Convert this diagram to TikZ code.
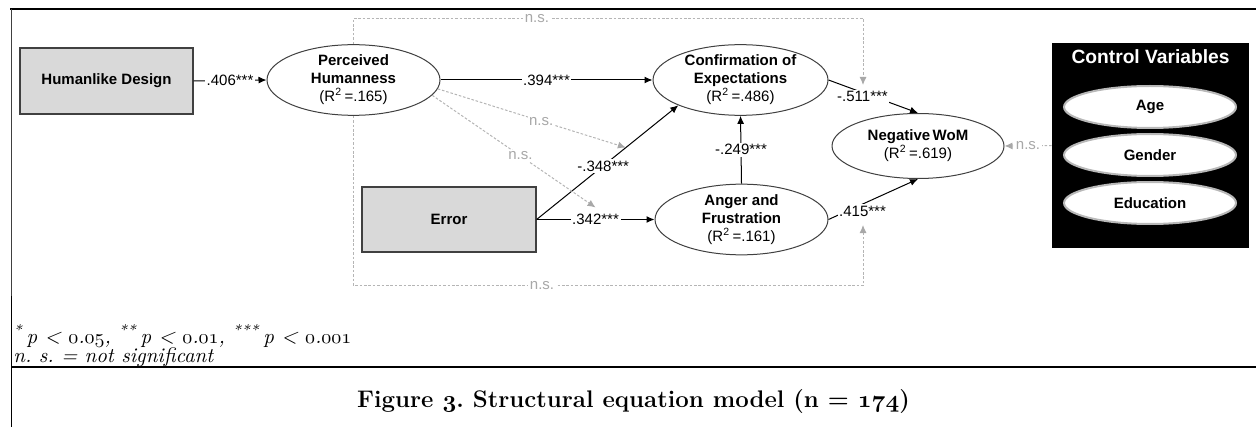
\documentclass[tikz,border=0pt]{standalone}
\usepackage{fontspec}
\setsansfont{Liberation Sans}
\usetikzlibrary{arrows.meta,shapes.geometric,calc}
\frenchspacing
% old-style figures taken from the math italic font
\newcommand\osnum[1]{{\usefont{OML}{cmm}{m}{it}#1}}
\newcommand\osnumb[1]{{\usefont{OML}{cmm}{b}{it}#1}}
\newcommand\sig[1]{\textsuperscript{#1}}
\definecolor{nsgray}{HTML}{A8A8A8}
\definecolor{boxgray}{HTML}{D9D9D9}
\definecolor{edge}{HTML}{404040}
\tikzset{
  diagfont/.style={font=\sffamily\fontsize{7.5}{9}\selectfont},
  varbox/.style={rectangle, draw=edge, fill=boxgray, line width=0.6pt,
    minimum width=86.5pt, minimum height=33pt, diagfont, inner sep=0pt},
  latent/.style={ellipse, draw=edge, fill=white, line width=0.5pt,
    minimum width=86.5pt, minimum height=32pt, diagfont, align=center, inner sep=0pt},
  ctrlell/.style={ellipse, draw=white!72!black, fill=white, line width=1pt,
    minimum width=86pt, minimum height=21pt, diagfont, inner sep=0pt},
  sigpath/.style={draw=black, line width=0.5pt, -{Latex[length=4pt,width=3.5pt]}},
  nspath/.style={draw=nsgray!85, line width=0.5pt, dash pattern=on 1.3pt off 0.9pt,
    -{Latex[length=4pt,width=3.5pt,color=nsgray]}},
  coef/.style={fill=white, inner sep=0.8pt, diagfont},
  nslbl/.style={fill=white, inner sep=0.8pt, diagfont, text=nsgray},
}
\begin{document}
\begin{tikzpicture}[x=0.5pt, y=-0.5pt]
\useasboundingbox (0,0) rectangle (1256,427);

% frame of the figure cell
\draw[line width=1pt] (10,9) -- (1256,9);
\draw[line width=0.5pt, edge] (11.5,9) -- (11.5,296);
\draw[line width=0.9pt] (11.5,296) -- (11.5,427);
\draw[line width=0.9pt] (11.5,367) -- (1256,367);

% constructs
\node[varbox] (hd) at (106.5,81) {\textbf{Humanlike Design}};
\node[varbox, minimum width=87pt, minimum height=32.5pt] (err) at (449,219.5) {\textbf{Error}};
\node[latent] (ph) at (353.5,80) {\textbf{Perceived}\\\textbf{Humanness}\\(R\sig{2}\,=.165)};
\node[latent, minimum width=87.5pt] (coe) at (740.5,80) {\textbf{Confirmation of}\\\textbf{Expectations}\\(R\sig{2}\,=.486)};
\node[latent, minimum height=32.5pt] (af) at (741.5,219.5) {\textbf{Anger and}\\\textbf{Frustration}\\(R\sig{2}\,=.161)};
\node[latent, minimum width=86pt, minimum height=32.5pt] (nw) at (918,146) {\textbf{Negative\,WoM}\\(R\sig{2}\,=.619)};

% control variables panel
\node[rectangle, fill=black, minimum width=98.5pt, minimum height=102.5pt, inner sep=0pt] (cv) at (1150.5,145.5) {};
\node[font=\sffamily\bfseries\fontsize{9.6}{11}\selectfont, text=white] (cvt) at (1150.5,57) {Control Variables};
\node[ctrlell] (age) at (1150,107) {\textbf{Age}};
\node[ctrlell] (gen) at (1150,155) {\textbf{Gender}};
\node[ctrlell] (edu) at (1150,203) {\textbf{Education}};

% significant paths
\draw[sigpath] (hd.east) -- node[coef]{.406***} (ph.west);
\draw[sigpath] (ph.east) -- node[coef]{.394***} (coe.west);
\draw[sigpath] (err.east) -- node[coef]{.342***} (af.west);
\draw[sigpath] (err.east) -- node[coef, pos=0.47]{-.348***} (coe.south west);
\draw[sigpath] (af.north) -- node[coef]{-.249***} (coe.south);
\draw[sigpath] (coe.east) -- node[coef, pos=0.38, yshift=-2pt]{-.511***} (nw.north);
\draw[sigpath] (af.east) -- node[coef, pos=0.38, yshift=-3.5pt]{.415***} (nw.south);

% end points of the moderating paths
\path (err.east) -- (coe.south west) coordinate[pos=0.63] (m1);
\coordinate (m2) at ($(err.east)!0.5!(af.west)+(0,-12)$);
\coordinate (m3) at (863,85);
\coordinate (m4) at (863,225);

% non-significant paths
\draw[nspath] (ph.-6) -- node[nslbl, pos=0.55]{n.s.} (m1);
\draw[nspath] (ph.-11) -- node[nslbl, pos=0.54]{n.s.} (m2);
\draw[nspath] (ph.north) -- ++(0,-26) -| node[nslbl, pos=0.18]{n.s.} (m3);
\draw[nspath] (ph.south) -- ++(0,170) -| node[nslbl, pos=0.185]{n.s.} (m4);
\draw[nspath] (cv.west) -- node[nslbl]{n.s.} (nw.east);

% notes and caption
\node[anchor=base west, inner sep=0pt, font=\itshape\fontsize{10.4}{12}\selectfont] (n1) at (13,343)
  {\sig{*}\,p < \osnum{0}.\osnum{05}, \sig{**}\,p < \osnum{0}.\osnum{01}, \sig{***}\,p < \osnum{0}.\osnum{001}};
\node[anchor=base west, inner sep=0pt, font=\itshape\fontsize{10.4}{12}\selectfont] (n2) at (13,362)
  {n. s. = not significant};
\node[anchor=base, inner sep=0pt, font=\bfseries\fontsize{12}{15}\selectfont] (cap) at (633.5,407)
  {Figure \osnumb{3}. Structural equation model (n = \osnumb{174})};
\end{tikzpicture}
\end{document}
